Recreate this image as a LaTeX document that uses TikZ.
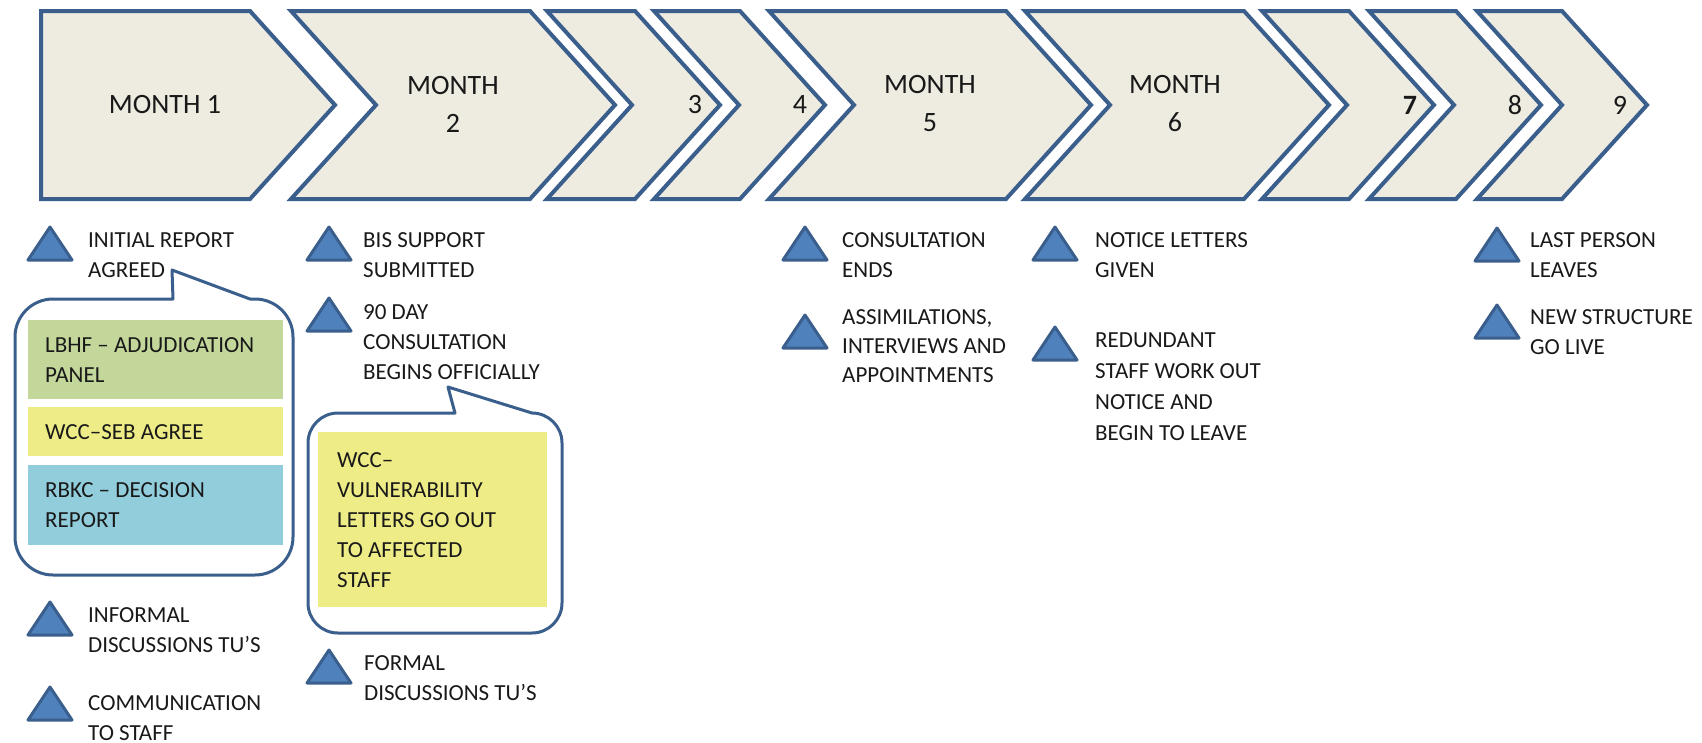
\documentclass[tikz,border=0pt]{standalone}
\usepackage{fontspec}
\setmainfont{Carlito}
\definecolor{chevfill}{RGB}{238,236,225}
\definecolor{chevblue}{RGB}{58,95,140}
\definecolor{trifill}{RGB}{79,129,189}
\definecolor{boxgreen}{RGB}{196,215,155}
\definecolor{boxyellow}{RGB}{238,236,135}
\definecolor{boxblue}{RGB}{146,205,220}
\definecolor{txt}{RGB}{25,25,25}
\begin{document}
\begin{tikzpicture}[x=1pt,y=-1pt,
  chev/.style={draw=chevblue,line width=4pt,fill=chevfill,line join=miter},
  callout/.style={draw=chevblue,line width=3pt,fill=white,line join=round},
  lbl/.style={anchor=north west,inner sep=0pt,align=left,text=txt,font=\fontsize{23}{30}\selectfont},
  mon/.style={inner sep=0pt,align=center,text=txt,font=\fontsize{28}{38}\selectfont},
  tri/.pic={\draw[draw=chevblue,fill=trifill,line width=3pt,line join=round] (-22,33) -- (0,0) -- (22,33) -- cycle;}]
\useasboundingbox (0,0) rectangle (1702,742);
% chevrons
\draw[chev] (41,11) -- (250,11) -- (335,105) -- (250,199) -- (41,199) -- cycle;
\foreach \a/\c in {291/530,547/635,654/740,769/1006,1025/1244,1262/1349,1369/1456,1477/1562}
  \draw[chev] (\a,11) -- (\c,11) -- (\c+85,105) -- (\c,199) -- (\a,199) -- (\a+85,105) -- cycle;
\node[mon] (m1) at (165,105) {MONTH 1};
\node[mon] (m2) at (453,104) {MONTH\\2};
\node[mon] (m3) at (695,105) {3};
\node[mon] (m4) at (800,105) {4};
\node[mon] (m5) at (930,104) {MONTH\\5};
\node[mon] (m6) at (1175,104) {MONTH\\6};
\node[mon,font=\fontsize{28}{38}\selectfont\bfseries] (m7) at (1410,105) {7};
\node[mon] (m8) at (1515,105) {8};
\node[mon] (m9) at (1620,105) {9};
% callout 1
\draw[callout] (173,299) -- (172,270) -- (250,299) -- (255,299)
  arc[start angle=270,end angle=360,radius=38] -- (293,537)
  arc[start angle=0,end angle=90,radius=38] -- (53,575)
  arc[start angle=90,end angle=180,radius=38] -- (15,337)
  arc[start angle=180,end angle=270,radius=38] -- cycle;
\fill[boxgreen] (28,320) rectangle (283,399);
\fill[boxyellow] (28,407) rectangle (283,456);
\fill[boxblue] (28,465) rectangle (283,545);
\node[lbl] (lbhf) at (45,337.6) {LBHF – ADJUDICATION\\PANEL};
\node[lbl] (wcc) at (45,424.6) {WCC–SEB AGREE};
\node[lbl] (rbkc) at (45,482.6) {RBKC – DECISION\\REPORT};
% callout 2
\draw[callout] (455,413) -- (448,387) -- (532,413)
  arc[start angle=270,end angle=360,radius=30] -- (562,603)
  arc[start angle=0,end angle=90,radius=30] -- (338,633)
  arc[start angle=90,end angle=180,radius=30] -- (308,443)
  arc[start angle=180,end angle=270,radius=30] -- cycle;
\fill[boxyellow] (318,432) rectangle (547,607);
\node[lbl] (vuln) at (337,452.6) {WCC–\\VULNERABILITY\\LETTERS GO OUT\\TO AFFECTED\\STAFF};
% triangles
\foreach \p in {(50,227),(50,602),(50,687),(329,227),(329,298),(329,650),(805,227),(805,315),(1055,227),(1055,327),(1497,228),(1497,305)}
  \pic at \p {tri};
% labels
\node[lbl] (t1) at (88,232.6) {INITIAL REPORT\\AGREED};
\node[lbl] (t2) at (88,607.6) {INFORMAL\\DISCUSSIONS TU’S};
\node[lbl] (t3) at (88,695.6) {COMMUNICATION\\TO STAFF};
\node[lbl] (t4) at (363,232.6) {BIS SUPPORT\\SUBMITTED};
\node[lbl] (t5) at (363,304.6) {90 DAY\\CONSULTATION\\BEGINS OFFICIALLY};
\node[lbl] (t6) at (364,655.6) {FORMAL\\DISCUSSIONS TU’S};
\node[lbl] (t7) at (842,232.6) {CONSULTATION\\ENDS};
\node[lbl,font=\fontsize{23}{29}\selectfont] (t8) at (842,309.6) {ASSIMILATIONS,\\INTERVIEWS AND\\APPOINTMENTS};
\node[lbl] (t9) at (1095,232.6) {NOTICE LETTERS\\GIVEN};
\node[lbl,font=\fontsize{23}{31}\selectfont] (t10) at (1095,332.6) {REDUNDANT\\STAFF WORK OUT\\NOTICE AND\\BEGIN TO LEAVE};
\node[lbl] (t11) at (1530,232.6) {LAST PERSON\\LEAVES};
\node[lbl] (t12) at (1530,309.6) {NEW STRUCTURE\\GO LIVE};
\end{tikzpicture}
\end{document}
